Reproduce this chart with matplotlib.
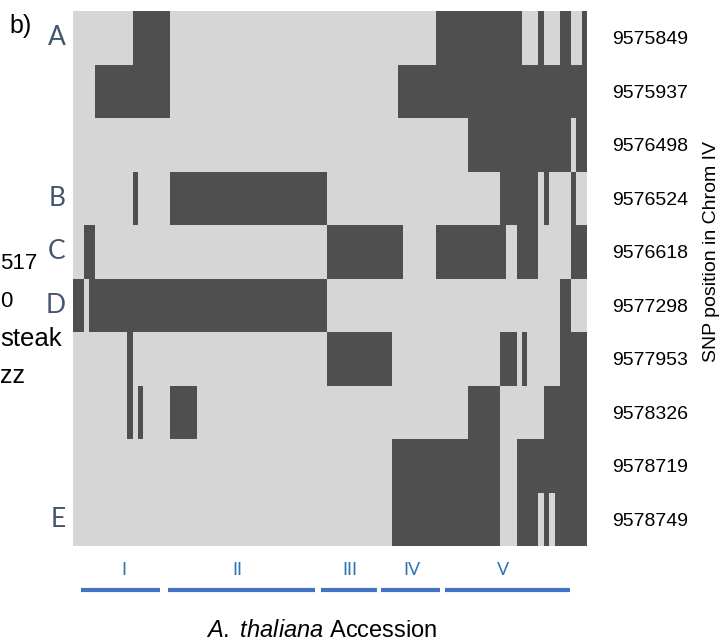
import numpy as np
import matplotlib
matplotlib.use("Agg")
import matplotlib.pyplot as plt
from matplotlib.colors import ListedColormap

plt.rcParams['font.family'] = ['Liberation Sans', 'DejaVu Sans']
plt.rcParams['mathtext.fontset'] = 'custom'
plt.rcParams['mathtext.rm'] = 'Liberation Sans'
plt.rcParams['mathtext.it'] = 'Liberation Sans:italic'

# SNP positions (rows, top to bottom)
snp_positions = ['9575849', '9575937', '9576498', '9576524', '9576618',
                 '9577298', '9577953', '9578326', '9578719', '9578749']
n_accessions = 95

# dark (alternative allele) runs per SNP row, as [start, end) accession index
dark_runs = [
    [(11, 18), (67, 83), (86, 87), (90, 92), (94, 95)],
    [(4, 18), (60, 95)],
    [(73, 92), (93, 95)],
    [(11, 12), (18, 47), (79, 86), (87, 88), (92, 93)],
    [(2, 4), (47, 61), (67, 80), (82, 86), (92, 95)],
    [(0, 2), (3, 47), (90, 92)],
    [(10, 11), (47, 59), (79, 82), (83, 84), (90, 95)],
    [(10, 11), (12, 13), (18, 23), (73, 79), (87, 95)],
    [(59, 79), (82, 95)],
    [(59, 79), (82, 86), (87, 88), (89, 95)],
]

# letter markers on the left of some rows
row_letters = ['A', 'B', 'C', 'D', 'E']
row_letter_rows = [0, 3, 4, 5, 9]

# accession groups (column spans)
group_names = ['I', 'II', 'III', 'IV', 'V']
group_start = [1.5, 17.6, 45.8, 56.9, 68.8]
group_end = [16.1, 44.7, 56.2, 67.8, 91.9]
group_label_x = [9.4, 30.3, 51.2, 62.7, 79.5]

# text cut off from the neighbouring panel
cut_texts = ['517', '0', 'steak', 'zz']
cut_left = [0, 0, 0, 0]
cut_base = [269, 307, 346, 383]
cut_size = [16, 16, 18.5, 18]

grid = np.zeros((len(snp_positions), n_accessions))
for i, runs in enumerate(dark_runs):
    for a, b in runs:
        grid[i, a:b] = 1

W, H = 728, 644
fig = plt.figure(figsize=(W / 100, H / 100), dpi=100)
ax = fig.add_axes([73 / W, 1 - 546 / H, 514 / W, 535 / H])

cmap = ListedColormap(['#d6d6d6', '#4f4f4f'])
ax.pcolormesh(np.arange(n_accessions + 1), np.arange(len(snp_positions) + 1),
              grid, cmap=cmap, vmin=0, vmax=1)
ax.set_xlim(0, n_accessions)
ax.set_ylim(len(snp_positions), 0)

for s in ax.spines.values():
    s.set_visible(False)
ax.set_xticks([])
ax.yaxis.tick_right()
ax.set_yticks(np.arange(len(snp_positions)) + 0.5)
ax.set_yticklabels(snp_positions, fontsize=14)
ax.tick_params(axis='y', length=0, pad=18)

for letter, r in zip(row_letters, row_letter_rows):
    ax.text(-1.4, r + 0.5, letter, ha='right', va='center', fontsize=19,
            color='#44546a', family=['Lato', 'DejaVu Sans'])

for name, a, b, lx in zip(group_names, group_start, group_end, group_label_x):
    ax.plot([a, b], [10.83, 10.83], color='#4472c4', lw=3.0,
            solid_capstyle='butt', clip_on=False)
    ax.text(lx, 10.45, name, ha='center', va='center', fontsize=13,
            color='#2e75b6', family=['Lato', 'DejaVu Sans'], clip_on=False)

fig.text(712 / W, 1 - 251 / H, 'SNP position in Chrom IV', rotation=90,
         ha='center', va='center', fontsize=14)
fig.text(321.5 / W, 1 - 637 / H, r'$\mathit{A.\ thaliana}$ Accession',
         ha='center', va='baseline', fontsize=17)
fig.text(9 / W, 1 - 33 / H, 'b)', ha='left', va='baseline', fontsize=18)

for t, xl, yb, fs in zip(cut_texts, cut_left, cut_base, cut_size):
    fig.text(xl / W, 1 - yb / H, t, ha='left', va='baseline', fontsize=fs)

fig.savefig('out.png', dpi=100)
